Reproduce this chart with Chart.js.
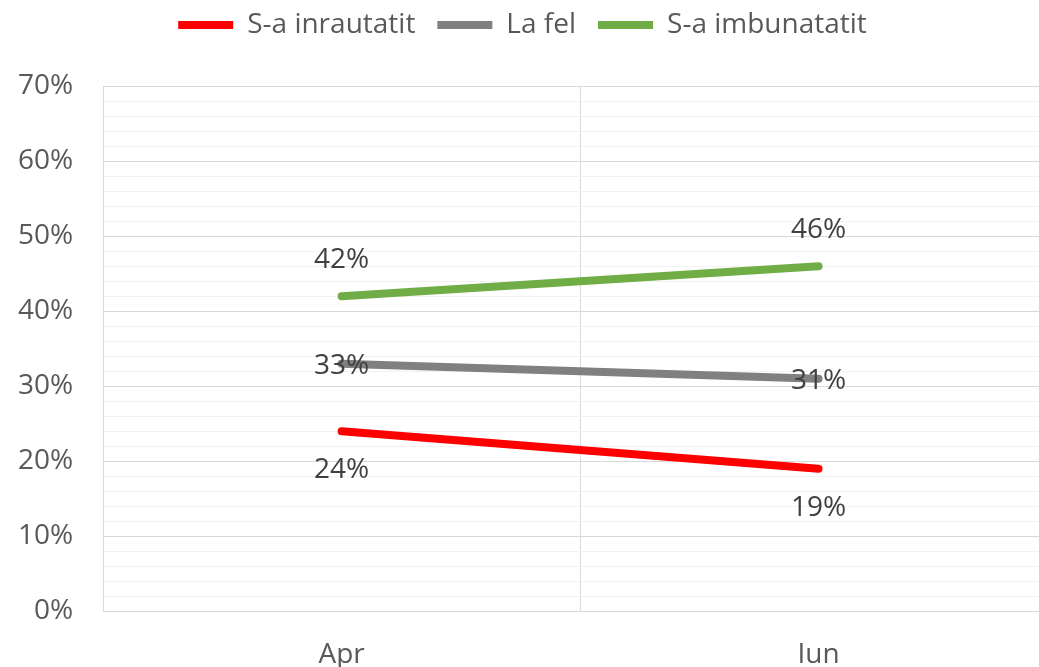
<!DOCTYPE html>
<html>
<head>
<meta charset="utf-8">
<script src="https://cdn.jsdelivr.net/npm/chart.js@4.4.1/dist/chart.umd.min.js"></script>
<style>
  html, body { margin: 0; padding: 0; background: #fff; overflow: hidden; }
  #wrap { width: 1094px; height: 667px; position: relative; }
</style>
</head>
<body>
<div id="wrap"><canvas id="line-chart"></canvas></div>
<script>
// Date
const categorii = ["Apr", "Iun"];
const inrautatit = [24, 19];
const laFel = [33, 31];
const imbunatatit = [42, 46];

// Etichete de date: pozitie fata de punct
const decalaj = { "S-a inrautatit": 39, "La fel": 2, "S-a imbunatatit": -36 };

const eticheteDate = {
    id: 'eticheteDate',
    afterDatasetsDraw(chart) {
        const ctx = chart.ctx;
        ctx.save();
        ctx.font = '28px "Open Sans"';
        ctx.fillStyle = '#404040';
        ctx.textAlign = 'center';
        ctx.textBaseline = 'middle';
        chart.data.datasets.forEach((ds, i) => {
            chart.getDatasetMeta(i).data.forEach((pt, j) => {
                ctx.fillText(ds.data[j] + '%', pt.x, pt.y + decalaj[ds.label]);
            });
        });
        ctx.restore();
    }
};

// spatiu suplimentar sub legenda
const spatiuLegenda = {
    id: 'spatiuLegenda',
    beforeInit(chart) {
        const fitOrig = chart.legend.fit;
        chart.legend.fit = function () {
            fitOrig.bind(chart.legend)();
            this.height += 37;
        };
    }
};

function serie(label, data, culoare) {
    return {
        label: label,
        data: data,
        borderColor: culoare,
        backgroundColor: culoare,
        borderWidth: 8,
        borderCapStyle: 'round',
        pointRadius: 0,
        pointStyle: 'line',
        fill: false
    };
}

new Chart(document.getElementById("line-chart"), {
    type: 'line',
    data: {
        labels: categorii,
        datasets: [
            serie("S-a inrautatit", inrautatit, "#ff0000"),
            serie("La fel", laFel, "#808080"),
            serie("S-a imbunatatit", imbunatatit, "#70ad47")
        ]
    },
    options: {
        responsive: true,
        maintainAspectRatio: false,
        animation: false,
        layout: { padding: { left: -12, right: 37, top: -11, bottom: -32 } },
        plugins: {
            tooltip: { enabled: false },
            legend: {
                display: true,
                position: 'top',
                labels: {
                    usePointStyle: true,
                    pointStyleWidth: 55,
                    color: '#595959',
                    font: { family: '"Open Sans"', size: 28 },
                    padding: 22
                }
            }
        },
        scales: {
            x: {
                offset: true,
                grid: { offset: true, color: '#d9d9d9', lineWidth: 1, drawTicks: false },
                border: { color: '#d9d9d9' },
                ticks: {
                    color: '#595959',
                    font: { family: '"Open Sans"', size: 28 },
                    padding: 27
                }
            },
            y: {
                min: 0,
                max: 70,
                grid: {
                    drawTicks: false,
                    color: c => (c.tick && c.tick.value % 10 === 0) ? '#d9d9d9' : '#f2f2f2',
                    lineWidth: 1
                },
                border: { color: '#d9d9d9' },
                ticks: {
                    stepSize: 2,
                    autoSkip: false,
                    color: '#595959',
                    font: { family: '"Open Sans"', size: 28 },
                    padding: 30,
                    callback: v => (v % 10 === 0) ? v + '%' : ''
                }
            }
        }
    },
    plugins: [eticheteDate, spatiuLegenda]
});
</script>
</body>
</html>
